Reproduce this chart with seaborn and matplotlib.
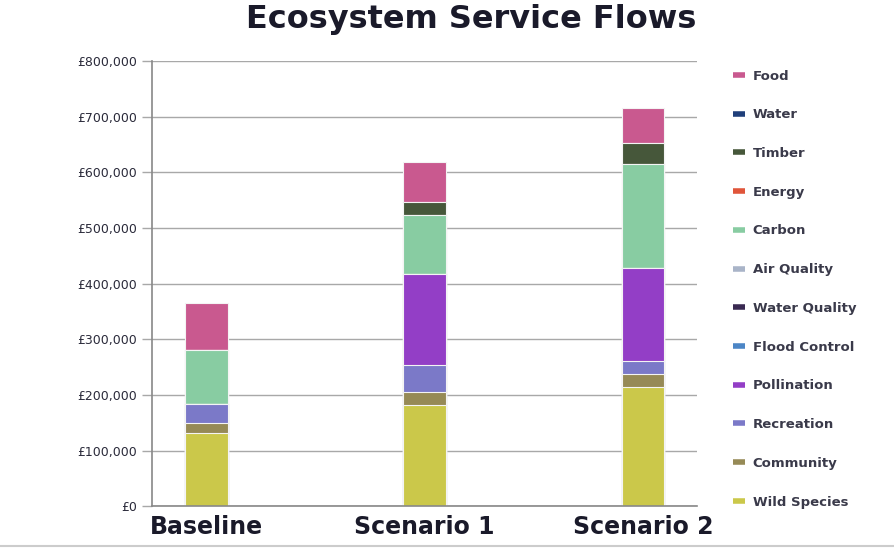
import numpy as np
import pandas as pd
import matplotlib
matplotlib.use("Agg")
import matplotlib.pyplot as plt
import seaborn as sns
from matplotlib.lines import Line2D
from matplotlib.ticker import FuncFormatter, MultipleLocator

sns.set_theme(style="white")
plt.rcParams['font.family'] = ['DejaVu Sans']

# data (values in £)
scenarios = ["Baseline", "Scenario 1", "Scenario 2"]
# the chart has two empty slots between the scenarios
slots = ["Baseline", "gap_a", "Scenario 1", "gap_b", "Scenario 2"]

# stacking order, bottom to top
services = ["Wild Species", "Community", "Recreation", "Pollination",
            "Flood Control", "Water Quality", "Air Quality", "Carbon",
            "Energy", "Timber", "Water", "Food"]
wild_species = [131000, 182000, 214000]
community = [18000, 23000, 23000]
recreation = [34000, 49000, 24000]
pollination = [0, 163000, 167000]
flood_control = [0, 0, 0]
water_quality = [0, 0, 0]
air_quality = [0, 0, 0]
carbon = [97000, 106000, 187000]
energy = [0, 0, 0]
timber = [0, 24000, 38000]
water = [0, 0, 0]
food = [85000, 71000, 62000]

colors = {
    "Food": "#C9598F", "Water": "#1F3F7A", "Timber": "#46573A",
    "Energy": "#E0553A", "Carbon": "#88CCA2", "Air Quality": "#A9B4C8",
    "Water Quality": "#3A2A52", "Flood Control": "#4C86C6",
    "Pollination": "#933EC6", "Recreation": "#7B79C8",
    "Community": "#968A56", "Wild Species": "#CBC84A",
}

values = [wild_species, community, recreation, pollination, flood_control,
          water_quality, air_quality, carbon, energy, timber, water, food]
df = pd.DataFrame(dict(zip(services, values)), index=scenarios)
cum = df.cumsum(axis=1)

fig = plt.figure(figsize=(8.94, 5.49), dpi=100)
ax = fig.add_axes([0.170, 0.078, 0.610, 0.811])

# draw cumulative totals from the top layer down so lower layers sit in front
for svc in services[::-1]:
    layer = pd.DataFrame({"slot": scenarios, "value": cum[svc].values})
    sns.barplot(data=layer, x="slot", y="value", order=slots,
                color=colors[svc], saturation=1, width=0.39,
                edgecolor="#f4f4f4", linewidth=0.8, errorbar=None, ax=ax)

ax.set_ylim(0, 800000)
ax.set_xlim(-0.5, 4.5)
ax.yaxis.set_major_locator(MultipleLocator(100000))
ax.yaxis.set_major_formatter(FuncFormatter(lambda v, p: "£{:,.0f}".format(v)))
ax.grid(axis="y", color="#a8a8a8", linewidth=1.0)
ax.set_axisbelow(True)

ax.set_xticks([0, 2, 4])
ax.set_xticklabels(scenarios, fontsize=17, fontweight="bold", color="#1a1a2a")
ax.set_xticks(np.arange(-0.5, 5, 1), minor=True)
ax.tick_params(axis="x", which="major", length=0, pad=6)
ax.tick_params(axis="x", which="minor", length=5, width=1, color="#888888",
               direction="out")
ax.tick_params(axis="y", length=7, width=1, color="#a8a8a8", labelsize=9,
               labelcolor="#2a2a3a", left=True, pad=4)
ax.set_xlabel("")
ax.set_ylabel("")
for s in ["top", "right"]:
    ax.spines[s].set_visible(False)
ax.spines["left"].set_color("#888888")
ax.spines["bottom"].set_color("#888888")
ax.spines["left"].set_linewidth(1.2)
ax.spines["bottom"].set_linewidth(1.2)

fig.text(0.527, 0.965, "Ecosystem Service Flows", ha="center", va="center",
         fontsize=23, fontweight="bold", color="#1a1a2a")

# legend: top entry is Food
handles = [Line2D([0], [0], color=colors[s], linewidth=4,
                  solid_capstyle="butt") for s in services[::-1]]
fig.legend(handles, services[::-1], loc="upper left",
           bbox_to_anchor=(0.814, 0.883), frameon=False,
           prop={"size": 9.5, "weight": "bold"},
           handlelength=0.9, handletextpad=0.6, labelspacing=1.95,
           labelcolor="#3a3a4a", borderaxespad=0)

fig.add_artist(Line2D([0, 1], [0.006, 0.006], color="#cccccc", linewidth=1.5,
                      transform=fig.transFigure))

fig.savefig("out.png", dpi=100)
